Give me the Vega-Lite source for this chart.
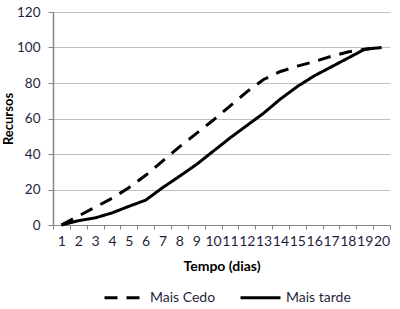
{
  "$schema": "https://vega.github.io/schema/vega-lite/v6.json",
  "width": 337,
  "height": 213,
  "autosize": "none",
  "padding": {"left": 53, "top": 12, "right": 10, "bottom": 84},
  "background": "white",
  "config": {
    "view": {"stroke": null},
    "font": "Lato",
    "axis": {"labelFont": "Lato", "titleFont": "Lato", "labelColor": "#1f1f3d", "titleColor": "#000000"},
    "legend": {"labelFont": "Lato", "labelColor": "#1f1f3d"}
  },
  "data": {
    "values": [
      {"dia": 1, "serie": "Mais Cedo", "recursos": 0},
      {"dia": 2, "serie": "Mais Cedo", "recursos": 5},
      {"dia": 3, "serie": "Mais Cedo", "recursos": 10},
      {"dia": 4, "serie": "Mais Cedo", "recursos": 15},
      {"dia": 5, "serie": "Mais Cedo", "recursos": 21},
      {"dia": 6, "serie": "Mais Cedo", "recursos": 28},
      {"dia": 7, "serie": "Mais Cedo", "recursos": 36},
      {"dia": 8, "serie": "Mais Cedo", "recursos": 44},
      {"dia": 9, "serie": "Mais Cedo", "recursos": 51.5},
      {"dia": 10, "serie": "Mais Cedo", "recursos": 59},
      {"dia": 11, "serie": "Mais Cedo", "recursos": 67},
      {"dia": 12, "serie": "Mais Cedo", "recursos": 75},
      {"dia": 13, "serie": "Mais Cedo", "recursos": 82},
      {"dia": 14, "serie": "Mais Cedo", "recursos": 86.5},
      {"dia": 15, "serie": "Mais Cedo", "recursos": 89.5},
      {"dia": 16, "serie": "Mais Cedo", "recursos": 92},
      {"dia": 17, "serie": "Mais Cedo", "recursos": 95},
      {"dia": 18, "serie": "Mais Cedo", "recursos": 97.5},
      {"dia": 19, "serie": "Mais Cedo", "recursos": 99},
      {"dia": 20, "serie": "Mais Cedo", "recursos": 100},
      {"dia": 1, "serie": "Mais tarde", "recursos": 0},
      {"dia": 2, "serie": "Mais tarde", "recursos": 2.4},
      {"dia": 3, "serie": "Mais tarde", "recursos": 4},
      {"dia": 4, "serie": "Mais tarde", "recursos": 6.8},
      {"dia": 5, "serie": "Mais tarde", "recursos": 10.5},
      {"dia": 6, "serie": "Mais tarde", "recursos": 14},
      {"dia": 7, "serie": "Mais tarde", "recursos": 21},
      {"dia": 8, "serie": "Mais tarde", "recursos": 27.4},
      {"dia": 9, "serie": "Mais tarde", "recursos": 34},
      {"dia": 10, "serie": "Mais tarde", "recursos": 41.5},
      {"dia": 11, "serie": "Mais tarde", "recursos": 49},
      {"dia": 12, "serie": "Mais tarde", "recursos": 56},
      {"dia": 13, "serie": "Mais tarde", "recursos": 63},
      {"dia": 14, "serie": "Mais tarde", "recursos": 71},
      {"dia": 15, "serie": "Mais tarde", "recursos": 78},
      {"dia": 16, "serie": "Mais tarde", "recursos": 84},
      {"dia": 17, "serie": "Mais tarde", "recursos": 89},
      {"dia": 18, "serie": "Mais tarde", "recursos": 94},
      {"dia": 19, "serie": "Mais tarde", "recursos": 99},
      {"dia": 20, "serie": "Mais tarde", "recursos": 100}
    ]
  },
  "mark": {"type": "line", "strokeWidth": 3, "color": "black", "strokeCap": "butt"},
  "encoding": {
    "x": {
      "field": "dia",
      "type": "ordinal",
      "bandPosition": 0.5,
      "scale": {"type": "band", "paddingInner": 0, "paddingOuter": 0},
      "axis": {
        "title": "Tempo (dias)",
        "titleFontSize": 14,
        "titleFontWeight": "bold",
        "titlePadding": 11,
        "labelAngle": 0,
        "labelFontSize": 14,
        "labelPadding": 5,
        "labelOverlap": false,
        "tickBand": "extent",
        "tickSize": 4,
        "tickColor": "#868686",
        "domainColor": "#868686",
        "domainWidth": 1,
        "grid": false
      }
    },
    "y": {
      "field": "recursos",
      "type": "quantitative",
      "scale": {"domain": [0, 120], "nice": false},
      "axis": {
        "title": "Recursos",
        "titleFontSize": 13,
        "titleFontWeight": "bold",
        "titlePadding": 1,
        "values": [0, 20, 40, 60, 80, 100, 120],
        "labelFontSize": 13.5,
        "labelPadding": 8,
        "tickSize": 5,
        "tickColor": "#868686",
        "domainColor": "#868686",
        "domainWidth": 1.5,
        "grid": true,
        "gridColor": "#bfbfbf",
        "gridWidth": 1
      }
    },
    "strokeDash": {
      "field": "serie",
      "type": "nominal",
      "sort": ["Mais Cedo", "Mais tarde"],
      "scale": {"domain": ["Mais Cedo", "Mais tarde"], "range": [[13, 9], [1, 0]]},
      "legend": {
        "title": null,
        "orient": "none",
        "legendX": 50,
        "legendY": 264,
        "direction": "horizontal",
        "symbolType": "stroke",
        "symbolSize": 1600,
        "symbolStrokeWidth": 3,
        "symbolStrokeColor": "black",
        "labelFontSize": 14,
        "columnPadding": 18,
        "labelOffset": 4
      }
    }
  }
}
